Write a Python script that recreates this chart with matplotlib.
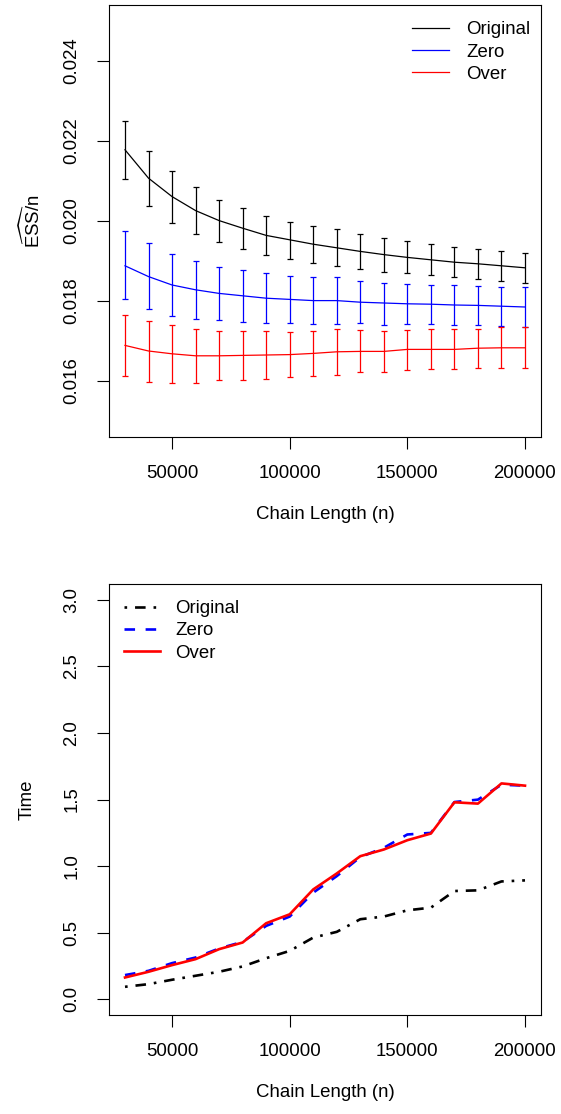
import matplotlib
matplotlib.use("Agg")
import matplotlib.pyplot as plt
import numpy as np

plt.rcParams['font.family'] = ['Liberation Sans', 'DejaVu Sans']
plt.rcParams['mathtext.fontset'] = 'custom'
plt.rcParams['mathtext.rm'] = 'Liberation Sans'
plt.rcParams['mathtext.it'] = 'Liberation Sans:italic'

# chain lengths
n = np.arange(30000, 200001, 10000)

# ESS/n means and interval ends
ess_orig = [0.02178, 0.02107, 0.02061, 0.02026, 0.02001, 0.01982, 0.01964, 0.01953, 0.01942,
            0.01933, 0.01924, 0.01916, 0.01909, 0.01903, 0.01897, 0.01893, 0.01888, 0.01883]
ess_orig_lo = [0.02105, 0.02038, 0.01995, 0.01967, 0.01948, 0.01931, 0.01915, 0.01905, 0.01895,
               0.01887, 0.01881, 0.01872, 0.01869, 0.01864, 0.01859, 0.01855, 0.01850, 0.01846]
ess_orig_hi = [0.02251, 0.02176, 0.02125, 0.02085, 0.02053, 0.02032, 0.02013, 0.01998, 0.01987,
               0.01979, 0.01967, 0.01958, 0.01949, 0.01942, 0.01936, 0.01930, 0.01926, 0.01919]

ess_zero = [0.01888, 0.01861, 0.01840, 0.01828, 0.01819, 0.01813, 0.01807, 0.01804, 0.01801,
            0.01801, 0.01797, 0.01795, 0.01793, 0.01792, 0.01790, 0.01789, 0.01787, 0.01785]
ess_zero_lo = [0.01804, 0.01779, 0.01762, 0.01755, 0.01752, 0.01748, 0.01745, 0.01745, 0.01742,
               0.01742, 0.01744, 0.01741, 0.01742, 0.01742, 0.01740, 0.01740, 0.01737, 0.01735]
ess_zero_hi = [0.01974, 0.01944, 0.01917, 0.01900, 0.01884, 0.01877, 0.01869, 0.01862, 0.01859,
               0.01859, 0.01850, 0.01846, 0.01842, 0.01841, 0.01839, 0.01837, 0.01836, 0.01834]

ess_over = [0.01689, 0.01675, 0.01668, 0.01663, 0.01663, 0.01664, 0.01665, 0.01666, 0.01669,
            0.01673, 0.01674, 0.01674, 0.01679, 0.01679, 0.01679, 0.01682, 0.01683, 0.01683]
ess_over_lo = [0.01613, 0.01598, 0.01594, 0.01595, 0.01602, 0.01603, 0.01605, 0.01609, 0.01612,
               0.01616, 0.01622, 0.01622, 0.01628, 0.01629, 0.01630, 0.01633, 0.01633, 0.01633]
ess_over_hi = [0.01766, 0.01750, 0.01740, 0.01730, 0.01725, 0.01725, 0.01725, 0.01723, 0.01725,
               0.01729, 0.01727, 0.01726, 0.01728, 0.01729, 0.01729, 0.01731, 0.01734, 0.01734]

# run times
time_orig = [0.092, 0.112, 0.145, 0.175, 0.205, 0.245, 0.307, 0.362, 0.462,
             0.505, 0.600, 0.620, 0.667, 0.687, 0.812, 0.817, 0.884, 0.892]
time_zero = [0.180, 0.212, 0.270, 0.312, 0.380, 0.430, 0.550, 0.620, 0.800,
             0.924, 1.067, 1.137, 1.237, 1.249, 1.481, 1.499, 1.611, 1.604]
time_over = [0.162, 0.205, 0.255, 0.300, 0.375, 0.425, 0.570, 0.637, 0.824,
             0.944, 1.074, 1.124, 1.194, 1.244, 1.479, 1.469, 1.621, 1.604]

labels = ['Original', 'Zero', 'Over']
cols = ['black', '#0000FF', '#FF0000']
fs = 13.4

fig = plt.figure(figsize=(5.61, 11.14), dpi=100)
W, H = 561, 1114
ax1 = fig.add_axes([109 / W, 1 - 437 / H, (541 - 109) / W, (437 - 5) / H])
ax2 = fig.add_axes([109 / W, 1 - 1015 / H, (541 - 109) / W, (1015 - 584) / H])

# top panel: ESS/n with intervals
series = [(ess_orig, ess_orig_lo, ess_orig_hi), (ess_zero, ess_zero_lo, ess_zero_hi),
          (ess_over, ess_over_lo, ess_over_hi)]
for (m, lo, hi), c, lab in zip(series, cols, labels):
    m = np.array(m)
    ax1.plot(n, m, color=c, lw=0.9, label=lab)
    ax1.errorbar(n, m, yerr=[m - np.array(lo), np.array(hi) - m], fmt='none',
                 ecolor=c, elinewidth=0.9, capsize=2.2, capthick=0.9)

ax1.set_xlim(23200, 206800)
ax1.set_ylim(0.0146, 0.0254)
ax1.set_yticks([0.016, 0.018, 0.020, 0.022, 0.024])
ax1.set_yticklabels(['0.016', '0.018', '0.020', '0.022', '0.024'])
ax1.set_ylabel(r'$\widehat{\mathrm{ESS}}/\mathrm{n}$', fontsize=fs, labelpad=14)
ax1.legend(loc='upper right', frameon=False, fontsize=fs, handlelength=1.95,
           handletextpad=0.95, labelspacing=0.29, borderaxespad=0.3,
           bbox_to_anchor=(1.006, 0.993))

# bottom panel: timing
ax2.plot(n, time_orig, color=cols[0], lw=1.9, dashes=(1, 3, 4, 3), label=labels[0])
ax2.plot(n, time_zero, color=cols[1], lw=1.9, dashes=(4, 4), label=labels[1])
ax2.plot(n, time_over, color=cols[2], lw=1.9, label=labels[2])
ax2.set_xlim(23200, 206800)
ax2.set_ylim(-0.12, 3.12)
ax2.set_yticks(np.arange(0, 3.01, 0.5))
ax2.set_yticklabels(['%.1f' % v for v in np.arange(0, 3.01, 0.5)])
ax2.set_ylabel('Time', fontsize=fs, labelpad=20)
ax2.legend(loc='upper left', frameon=False, fontsize=fs, handlelength=1.95,
           handletextpad=0.8, labelspacing=0.29, borderaxespad=0.3,
           bbox_to_anchor=(0.004, 0.993))

for ax in (ax1, ax2):
    ax.set_xticks([50000, 100000, 150000, 200000])
    ax.set_xticklabels(['50000', '100000', '150000', '200000'])
    ax.set_xlabel('Chain Length (n)', fontsize=fs, labelpad=17)
    ax.tick_params(length=8.5, width=0.8, labelsize=fs, pad=12)
    ax.tick_params(axis='y', labelrotation=90)
    for lab in ax.get_yticklabels():
        lab.set_va('center')
    for sp in ax.spines.values():
        sp.set_linewidth(0.8)

fig.savefig('out.png', dpi=100)
